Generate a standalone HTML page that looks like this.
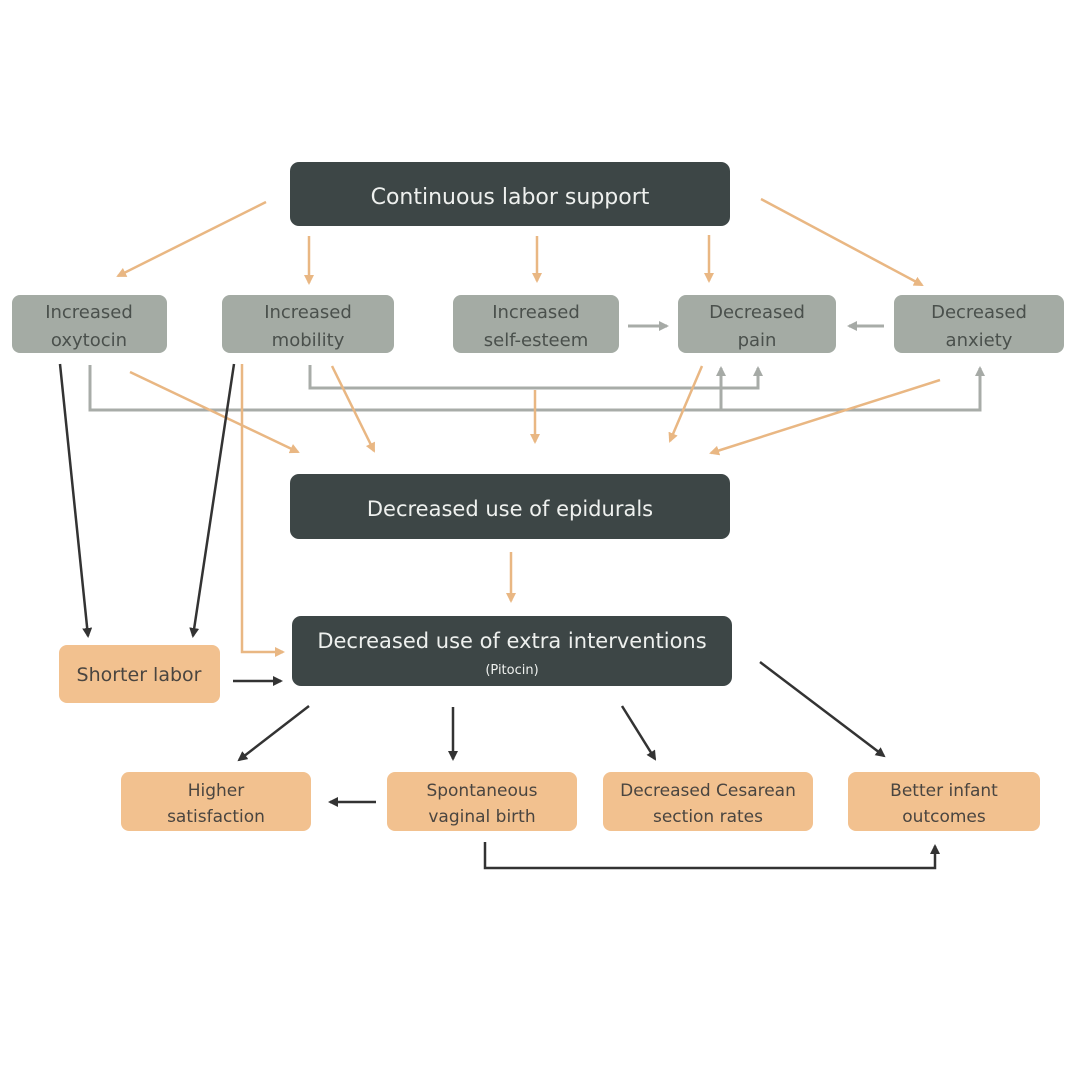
<!DOCTYPE html>
<html><head><meta charset="utf-8"><style>
html,body{margin:0;padding:0;background:#fff;}
svg{display:block;}
text{font-family:"DejaVu Sans","Liberation Sans",sans-serif;text-anchor:middle;}
</style></head><body>
<svg width="1080" height="1080" viewBox="0 0 1080 1080" xmlns="http://www.w3.org/2000/svg">
<defs>
<marker id="ao" markerWidth="10" markerHeight="10" refX="8" refY="5" orient="auto" markerUnits="userSpaceOnUse"><path d="M0,0 L10,5 L0,10 z" fill="#e9b783"/></marker>
<marker id="ag" markerWidth="10" markerHeight="10" refX="8" refY="5" orient="auto" markerUnits="userSpaceOnUse"><path d="M0,0 L10,5 L0,10 z" fill="#a6aaa6"/></marker>
<marker id="ad" markerWidth="10" markerHeight="10" refX="8" refY="5" orient="auto" markerUnits="userSpaceOnUse"><path d="M0,0 L10,5 L0,10 z" fill="#333"/></marker>
</defs>
<rect width="1080" height="1080" fill="#fff"/>

<!-- gray connectors -->
<g stroke="#a8aca8" stroke-width="3" fill="none">
<polyline points="90,365 90,410 980,410 980,368" marker-end="url(#ag)"/>
<polyline points="721,410 721,368" marker-end="url(#ag)"/>
<polyline points="310,365 310,388 758,388 758,368" marker-end="url(#ag)"/>
<line x1="628" y1="326" x2="667" y2="326" marker-end="url(#ag)"/>
<line x1="884" y1="326" x2="849" y2="326" marker-end="url(#ag)"/>
</g>

<!-- orange connectors -->
<g stroke="#e9b783" stroke-width="2.5" fill="none">
<line x1="266" y1="202" x2="118" y2="276" marker-end="url(#ao)"/>
<line x1="309" y1="236" x2="309" y2="283" marker-end="url(#ao)"/>
<line x1="537" y1="236" x2="537" y2="281" marker-end="url(#ao)"/>
<line x1="709" y1="235" x2="709" y2="281" marker-end="url(#ao)"/>
<line x1="761" y1="199" x2="922" y2="285" marker-end="url(#ao)"/>
<line x1="130" y1="372" x2="298" y2="452" marker-end="url(#ao)"/>
<line x1="332" y1="366" x2="374" y2="451" marker-end="url(#ao)"/>
<line x1="535" y1="390" x2="535" y2="442" marker-end="url(#ao)"/>
<line x1="702" y1="366" x2="670" y2="441" marker-end="url(#ao)"/>
<line x1="940" y1="380" x2="711" y2="453" marker-end="url(#ao)"/>
<polyline points="242,364 242,652 283,652" marker-end="url(#ao)"/>
<line x1="511" y1="552" x2="511" y2="601" marker-end="url(#ao)"/>
</g>

<!-- dark connectors -->
<g stroke="#333" stroke-width="2.5" fill="none">
<line x1="60" y1="364" x2="88" y2="636" marker-end="url(#ad)"/>
<line x1="234" y1="364" x2="193" y2="636" marker-end="url(#ad)"/>
<line x1="233" y1="681" x2="281" y2="681" marker-end="url(#ad)"/>
<line x1="309" y1="706" x2="239" y2="760" marker-end="url(#ad)"/>
<line x1="453" y1="707" x2="453" y2="759" marker-end="url(#ad)"/>
<line x1="622" y1="706" x2="655" y2="759" marker-end="url(#ad)"/>
<line x1="760" y1="662" x2="884" y2="756" marker-end="url(#ad)"/>
<line x1="376" y1="802" x2="330" y2="802" marker-end="url(#ad)"/>
<polyline points="485,842 485,868 935,868 935,846" marker-end="url(#ad)"/>
</g>

<!-- dark boxes -->
<rect x="290" y="162" width="440" height="64" rx="9" fill="#3d4646"/>
<text x="510" y="204" font-size="22" fill="#eef0ee">Continuous labor support</text>
<rect x="290" y="474" width="440" height="65" rx="9" fill="#3d4646"/>
<text x="510" y="516" font-size="21" fill="#eef0ee">Decreased use of epidurals</text>
<rect x="292" y="616" width="440" height="70" rx="9" fill="#3d4646"/>
<text x="512" y="648" font-size="21" fill="#eef0ee">Decreased use of extra interventions</text>
<text x="512" y="674" font-size="13" fill="#eef0ee">(Pitocin)</text>

<!-- gray boxes -->
<g fill="#a4aba4">
<rect x="12" y="295" width="155" height="58" rx="8"/>
<rect x="222" y="295" width="172" height="58" rx="8"/>
<rect x="453" y="295" width="166" height="58" rx="8"/>
<rect x="678" y="295" width="158" height="58" rx="8"/>
<rect x="894" y="295" width="170" height="58" rx="8"/>
</g>
<g font-size="18" fill="#4a504c">
<text x="89" y="318">Increased</text><text x="89" y="346">oxytocin</text>
<text x="308" y="318">Increased</text><text x="308" y="346">mobility</text>
<text x="536" y="318">Increased</text><text x="536" y="346">self-esteem</text>
<text x="757" y="318">Decreased</text><text x="757" y="346">pain</text>
<text x="979" y="318">Decreased</text><text x="979" y="346">anxiety</text>
</g>

<!-- orange boxes -->
<g fill="#f2c18f">
<rect x="59" y="645" width="161" height="58" rx="8"/>
<rect x="121" y="772" width="190" height="59" rx="8"/>
<rect x="387" y="772" width="190" height="59" rx="8"/>
<rect x="603" y="772" width="210" height="59" rx="8"/>
<rect x="848" y="772" width="192" height="59" rx="8"/>
</g>
<g font-size="17" fill="#4a4540">
<text x="139" y="681" font-size="19">Shorter labor</text>
<text x="216" y="796">Higher</text><text x="216" y="822">satisfaction</text>
<text x="482" y="796">Spontaneous</text><text x="482" y="822">vaginal birth</text>
<text x="708" y="796">Decreased Cesarean</text><text x="708" y="822">section rates</text>
<text x="944" y="796">Better infant</text><text x="944" y="822">outcomes</text>
</g>
</svg>
</body></html>
